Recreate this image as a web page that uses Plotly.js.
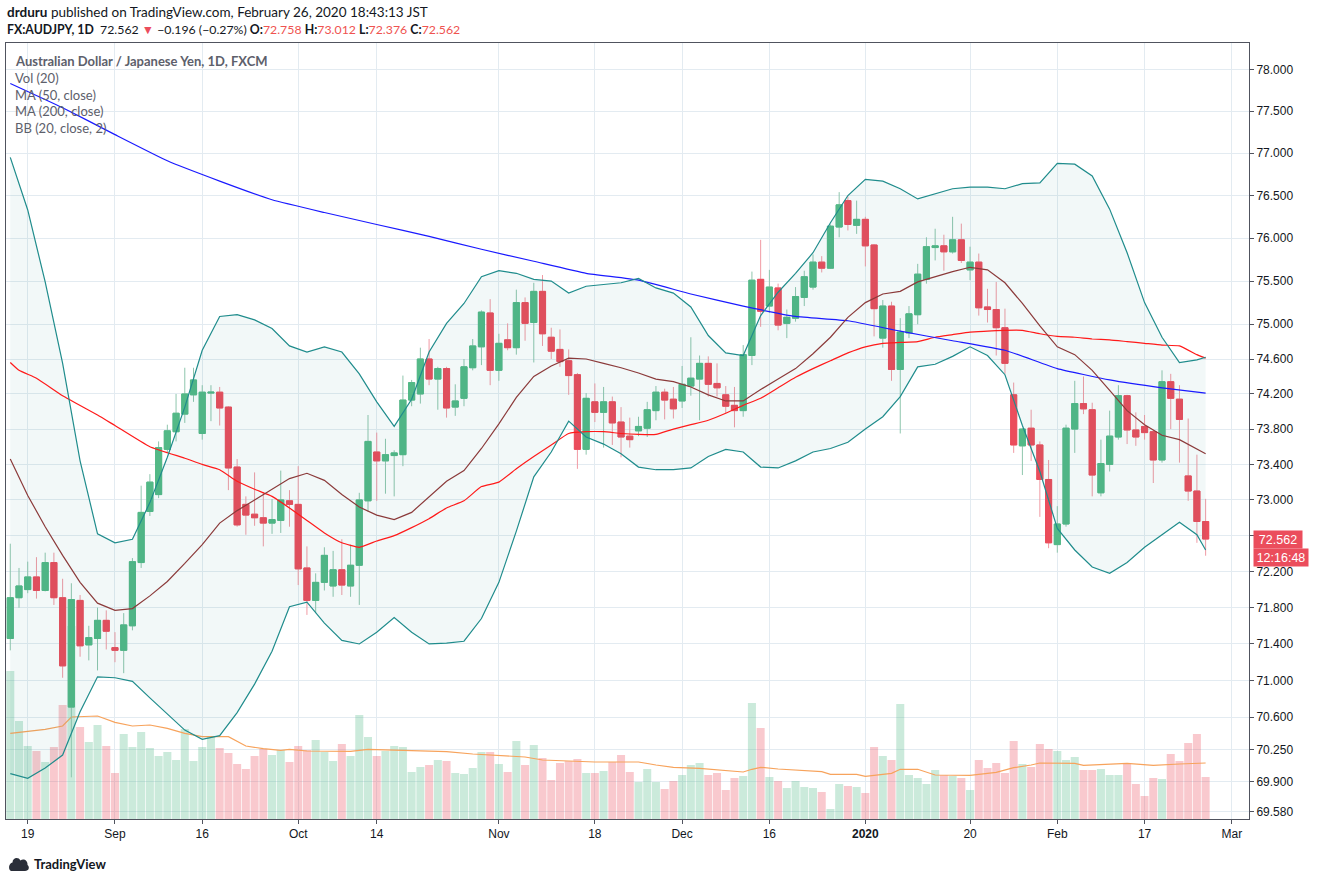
<!DOCTYPE html>
<html><head><meta charset="utf-8">
<script src="https://cdn.plot.ly/plotly-3.0.1.min.js"></script>
<style>html,body{margin:0;padding:0;background:#fff;}#chart{width:1320px;height:883px;}</style>
</head><body><div id="chart"></div>
<script>
// ---- daily candles (FX:AUDJPY, 1D, FXCM) ----
const dates = ['2019-08-15','2019-08-16','2019-08-19','2019-08-20','2019-08-21','2019-08-22','2019-08-23','2019-08-26','2019-08-27','2019-08-28','2019-08-29','2019-08-30',
'2019-09-02','2019-09-03','2019-09-04','2019-09-05','2019-09-06','2019-09-09','2019-09-10','2019-09-11','2019-09-12','2019-09-13',
'2019-09-16','2019-09-17','2019-09-18','2019-09-19','2019-09-20','2019-09-23','2019-09-24','2019-09-25','2019-09-26','2019-09-27',
'2019-09-30','2019-10-01','2019-10-02','2019-10-03','2019-10-04','2019-10-07','2019-10-08','2019-10-09','2019-10-10','2019-10-11',
'2019-10-14','2019-10-15','2019-10-16','2019-10-17','2019-10-18','2019-10-21','2019-10-22','2019-10-23','2019-10-24','2019-10-25',
'2019-10-28','2019-10-29','2019-10-30','2019-10-31','2019-11-01','2019-11-04','2019-11-05','2019-11-06','2019-11-07','2019-11-08',
'2019-11-11','2019-11-12','2019-11-13','2019-11-14','2019-11-15','2019-11-18','2019-11-19','2019-11-20','2019-11-21','2019-11-22',
'2019-11-25','2019-11-26','2019-11-27','2019-11-28','2019-11-29','2019-12-02','2019-12-03','2019-12-04','2019-12-05','2019-12-06',
'2019-12-09','2019-12-10','2019-12-11','2019-12-12','2019-12-13','2019-12-16','2019-12-17','2019-12-18','2019-12-19','2019-12-20',
'2019-12-23','2019-12-24','2019-12-26','2019-12-27','2019-12-30','2019-12-31','2020-01-02','2020-01-03','2020-01-06','2020-01-07',
'2020-01-08','2020-01-09','2020-01-10','2020-01-13','2020-01-14','2020-01-15','2020-01-16','2020-01-17','2020-01-20','2020-01-21',
'2020-01-22','2020-01-23','2020-01-24','2020-01-27','2020-01-28','2020-01-29','2020-01-30','2020-01-31','2020-02-03','2020-02-04',
'2020-02-05','2020-02-06','2020-02-07','2020-02-10','2020-02-11','2020-02-12','2020-02-13','2020-02-14','2020-02-17','2020-02-18',
'2020-02-19','2020-02-20','2020-02-21','2020-02-24','2020-02-25','2020-02-26'];

const open = [71.46,71.91,72.00,72.14,71.99,72.30,71.91,70.71,71.88,71.39,71.46,71.66,
71.36,71.33,71.60,72.30,72.87,73.06,73.57,73.77,73.97,74.19,
73.75,74.21,74.22,74.05,73.37,72.95,72.84,72.80,72.74,72.77,
72.99,72.95,72.24,71.88,72.08,72.04,72.22,72.04,72.27,72.99,
73.54,73.44,73.50,73.51,74.13,74.20,74.60,74.37,74.49,74.05,
74.15,74.50,74.74,75.13,74.47,74.82,74.73,75.25,75.02,75.38,
74.85,74.71,74.58,74.42,73.57,74.11,73.99,74.11,73.88,73.72,
73.78,73.81,74.01,74.22,74.14,74.12,74.29,74.37,74.55,74.32,
74.19,74.07,74.01,74.64,75.52,75.21,75.42,75.01,75.07,75.31,
75.43,75.72,75.65,76.13,76.44,76.15,76.22,75.92,74.84,75.21,
74.48,74.90,75.11,75.52,75.89,75.91,75.84,75.98,75.63,75.72,
75.20,75.17,74.96,74.19,73.61,73.81,73.62,73.23,72.50,72.73,
73.80,74.09,74.02,73.08,73.40,73.71,74.18,73.79,73.83,73.77,
73.45,74.34,74.14,73.27,73.10,72.758];

const high = [72.51,72.24,72.31,72.36,72.41,72.41,72.12,72.07,71.94,71.60,71.80,71.77,
71.53,71.74,72.35,73.16,73.29,73.66,73.85,74.20,74.50,74.50,
74.30,74.30,74.28,74.06,73.46,73.04,73.31,73.09,73.01,73.33,
73.11,73.38,72.48,72.18,72.47,72.43,72.56,72.50,73.08,73.96,
73.76,73.69,73.56,74.41,74.36,74.73,74.83,74.51,74.51,74.31,
74.60,74.83,75.16,75.29,74.89,75.01,75.40,75.31,75.48,75.57,
74.96,74.94,74.71,74.44,74.21,74.32,74.28,74.17,74.05,73.93,
73.94,74.11,74.29,74.26,74.28,74.52,74.85,74.64,74.63,74.55,
74.29,74.28,74.76,75.61,75.98,75.63,75.47,75.17,75.43,75.62,
75.81,75.79,76.16,76.54,76.49,76.44,76.25,75.93,75.28,75.26,
75.07,75.21,75.70,76.01,76.11,76.04,76.25,76.17,75.90,75.82,
75.41,75.49,75.18,74.33,73.81,74.02,73.66,73.45,72.93,73.85,
74.35,74.40,74.10,73.68,74.01,74.30,74.19,73.99,73.96,73.79,
74.47,74.43,74.30,73.92,73.51,73.012];

const low = [71.33,71.80,71.96,71.90,71.98,71.83,71.03,69.95,71.26,71.22,71.11,71.34,
71.20,71.08,71.55,72.24,72.82,73.02,73.54,73.66,73.87,74.11,
73.68,73.89,73.84,73.11,72.70,72.61,72.71,72.48,72.62,72.63,
72.70,72.05,71.72,71.74,71.99,71.92,71.94,71.92,71.83,72.87,
72.99,73.07,73.04,73.38,74.06,74.09,74.30,74.02,73.93,73.95,
74.06,74.47,74.53,74.30,74.35,74.70,74.65,74.81,74.56,74.75,
74.60,74.51,74.19,73.35,73.51,73.88,73.59,73.62,73.48,73.59,
73.72,73.71,73.90,73.91,73.92,74.04,74.18,73.90,74.17,74.17,
73.98,73.82,73.94,74.53,74.97,75.13,74.93,74.84,75.03,75.21,
75.40,75.60,75.64,76.01,76.09,76.05,75.67,74.86,74.73,74.35,
73.75,74.84,75.00,75.47,75.74,75.62,75.82,75.71,75.51,75.10,
75.02,74.64,74.43,73.53,73.28,73.44,72.81,72.46,72.41,72.70,
73.53,73.97,73.04,73.04,73.32,73.68,73.63,73.61,73.68,73.19,
73.42,73.80,73.42,72.99,72.52,72.376];

const close = [71.91,72.04,72.14,71.99,72.30,71.91,71.16,71.89,71.38,71.47,71.66,71.54,
71.33,71.61,72.31,72.86,73.20,73.59,73.78,73.98,74.20,74.36,
74.22,74.22,74.04,73.36,72.72,72.83,72.80,72.74,72.78,73.00,
72.95,72.23,71.88,72.08,72.38,72.22,72.05,72.27,73.00,73.66,
73.44,73.51,73.53,74.13,74.33,74.60,74.37,74.49,74.04,74.12,
74.51,74.75,75.14,74.47,74.78,74.73,75.25,75.01,75.38,74.89,
74.69,74.57,74.41,73.57,74.15,73.99,74.11,73.87,73.71,73.68,
73.83,74.02,74.22,74.13,74.03,74.31,74.38,74.55,74.31,74.27,
74.06,74.01,74.65,75.51,75.15,75.43,74.99,75.08,75.32,75.55,
75.72,75.65,76.14,76.39,76.16,76.22,75.91,75.18,75.21,74.48,
74.91,75.12,75.58,75.90,75.91,75.84,75.98,75.74,75.72,75.19,
75.17,74.96,74.55,73.62,73.80,73.62,73.23,72.52,72.73,73.81,
74.09,74.03,73.28,73.41,73.72,74.18,73.79,73.71,73.76,73.45,
74.34,74.15,73.91,73.10,72.758,72.562];

const volume = [148,98,73,68,57,72,114,193,92,77,94,73,
46,85,72,87,71,63,67,59,90,58,
72,83,71,66,55,50,63,70,64,69,
57,73,69,79,67,58,75,63,104,82,
63,68,73,72,47,52,54,59,58,46,
45,51,67,67,55,47,78,54,74,61,
39,56,58,60,46,46,48,57,64,47,
37,50,37,30,38,44,54,56,44,46,
29,41,43,116,91,42,38,31,38,32,
31,27,10,35,33,32,26,72,63,59,
115,44,41,35,49,44,43,41,29,59,
51,56,46,78,55,52,75,70,68,59,
62,49,49,50,44,44,56,35,23,41,
40,65,58,76,85,42];

// ---- indicator lines ----
const bbDates = ['2019-08-15','2019-08-19','2019-08-21','2019-08-23','2019-08-27','2019-08-29','2019-09-02','2019-09-04','2019-09-06','2019-09-10',
'2019-09-12','2019-09-16','2019-09-18','2019-09-20','2019-09-24','2019-09-26','2019-09-30','2019-10-02','2019-10-04','2019-10-08',
'2019-10-10','2019-10-14','2019-10-16','2019-10-18','2019-10-22','2019-10-24','2019-10-28','2019-10-30','2019-11-01','2019-11-05',
'2019-11-07','2019-11-11','2019-11-13','2019-11-15','2019-11-19','2019-11-21','2019-11-25','2019-11-27','2019-11-29','2019-12-03',
'2019-12-05','2019-12-09','2019-12-11','2019-12-13','2019-12-17','2019-12-19','2019-12-23','2019-12-26','2019-12-30','2020-01-02',
'2020-01-06','2020-01-08','2020-01-10','2020-01-14','2020-01-16','2020-01-20','2020-01-22','2020-01-24','2020-01-28','2020-01-30',
'2020-02-03','2020-02-05','2020-02-07','2020-02-11','2020-02-13','2020-02-17','2020-02-19','2020-02-21','2020-02-25','2020-02-26'];
const bbUpper = [76.95,76.33,75.49,74.55,73.44,72.62,72.52,72.56,72.97,73.48,
74.05,74.70,75.09,75.11,75.05,74.95,74.75,74.68,74.74,74.68,
74.43,74.11,73.83,74.14,74.68,75.01,75.24,75.55,75.62,75.59,
75.52,75.50,75.36,75.44,75.46,75.48,75.53,75.42,75.36,75.20,
74.87,74.67,74.64,75.10,75.37,75.59,75.83,76.18,76.50,76.69,
76.67,76.58,76.46,76.52,76.58,76.60,76.60,76.58,76.64,76.65,
76.88,76.87,76.73,76.34,75.83,75.25,74.85,74.56,74.59,74.62];
const bbBasis = [73.46,73.05,72.70,72.38,72.08,71.85,71.77,71.79,71.93,72.09,
72.29,72.50,72.74,72.88,73.00,73.12,73.24,73.30,73.22,73.06,
72.92,72.83,72.78,72.86,73.04,73.21,73.33,73.58,73.86,74.16,
74.40,74.52,74.61,74.60,74.55,74.50,74.44,74.37,74.34,74.28,
74.19,74.12,74.12,74.25,74.37,74.49,74.66,74.85,75.08,75.25,
75.35,75.38,75.49,75.55,75.61,75.66,75.63,75.48,75.24,74.98,
74.74,74.65,74.47,74.24,74.01,73.85,73.73,73.68,73.57,73.52];
const bbLower = [69.99,69.94,70.05,70.19,70.66,71.04,71.03,70.99,70.81,70.63,
70.46,70.36,70.40,70.65,70.96,71.32,71.81,71.86,71.63,71.44,
71.40,71.53,71.69,71.53,71.40,71.41,71.43,71.68,72.08,72.65,
73.26,73.54,73.89,73.71,73.63,73.52,73.37,73.34,73.34,73.36,
73.49,73.57,73.54,73.37,73.36,73.44,73.54,73.58,73.65,73.80,
73.94,74.17,74.51,74.54,74.63,74.74,74.64,74.42,73.84,73.32,
72.68,72.44,72.25,72.18,72.30,72.47,72.61,72.75,72.61,72.44];

const ma50Dates = ['2019-08-15','2019-08-16','2019-08-20','2019-08-23','2019-08-29','2019-09-02','2019-09-06','2019-09-12','2019-09-16','2019-09-18',
'2019-09-20','2019-09-24','2019-09-26','2019-09-30','2019-10-02','2019-10-04','2019-10-08','2019-10-10','2019-10-14','2019-10-16',
'2019-10-18','2019-10-22','2019-10-24','2019-10-28','2019-10-30','2019-11-01','2019-11-05','2019-11-07','2019-11-11','2019-11-13',
'2019-11-15','2019-11-19','2019-11-21','2019-11-25','2019-11-27','2019-11-29','2019-12-03','2019-12-05','2019-12-09','2019-12-11',
'2019-12-13','2019-12-17','2019-12-19','2019-12-23','2019-12-26','2019-12-30','2020-01-02','2020-01-06','2020-01-08','2020-01-10',
'2020-01-14','2020-01-16','2020-01-20','2020-01-22','2020-01-24','2020-01-28','2020-01-30','2020-02-03','2020-02-05','2020-02-07',
'2020-02-11','2020-02-13','2020-02-17','2020-02-19','2020-02-21','2020-02-25','2020-02-26'];
const ma50 = [74.56,74.47,74.38,74.18,73.96,73.84,73.60,73.47,73.40,73.34,
73.21,73.12,73.04,72.91,72.77,72.63,72.52,72.47,72.54,72.60,
72.69,72.79,72.91,72.99,73.15,73.20,73.35,73.49,73.62,73.75,
73.77,73.77,73.75,73.74,73.74,73.80,73.85,73.90,73.98,74.07,
74.15,74.27,74.39,74.49,74.58,74.67,74.74,74.78,74.79,74.80,
74.85,74.88,74.91,74.92,74.93,74.93,74.89,74.86,74.85,74.83,
74.82,74.80,74.78,74.76,74.75,74.65,74.61];

const ma200Dates = ['2019-08-15','2019-08-23','2019-09-02','2019-09-10','2019-09-18','2019-09-26','2019-10-04','2019-10-14','2019-10-22','2019-10-30',
'2019-11-07','2019-11-15','2019-11-25','2019-12-03','2019-12-11','2019-12-19','2019-12-30','2020-01-08','2020-01-16','2020-01-24',
'2020-02-03','2020-02-11','2020-02-19','2020-02-26'];
const ma200 = [77.83,77.54,77.22,76.91,76.67,76.45,76.30,76.16,76.02,75.87,
75.73,75.59,75.51,75.35,75.21,75.09,75.04,74.92,74.81,74.70,
74.49,74.36,74.27,74.21];

const volMaDates = ['2019-08-15','2019-08-19','2019-08-21','2019-08-23','2019-08-26','2019-08-29','2019-09-02','2019-09-04','2019-09-06','2019-09-10',
'2019-09-12','2019-09-16','2019-09-19','2019-09-23','2019-09-25','2019-09-27','2019-09-30','2019-10-02','2019-10-09','2019-10-11',
'2019-10-16','2019-10-22','2019-10-24','2019-10-29','2019-11-01','2019-11-06','2019-11-08','2019-11-13','2019-11-18','2019-11-21',
'2019-11-25','2019-11-27','2019-11-29','2019-12-04','2019-12-09','2019-12-11','2019-12-12','2019-12-13','2019-12-17','2019-12-20',
'2019-12-24','2019-12-26','2019-12-31','2020-01-02','2020-01-07','2020-01-08','2020-01-10','2020-01-14','2020-01-17','2020-01-20',
'2020-01-23','2020-01-27','2020-01-29','2020-01-30','2020-02-05','2020-02-06','2020-02-13','2020-02-18','2020-02-21','2020-02-26'];
const volMa = [85.7,88,89.7,93,102,103,96.7,93,94,90.7,
85.7,82.3,82.3,73,70.3,68.7,69.7,68,67.7,69.7,
68.7,68,67.3,65,63.7,62,59,58,57,57,
57,54,51.7,50.7,48.3,47,49.7,51.7,50,48,
47.3,44.7,44.7,42.7,45.7,49.7,49.7,44,44,43.7,
46.7,51.3,54,56,55.7,53.7,55.7,53.7,55,56];

// ---- axis labels ----
const xTickVals = ['2019-08-19','2019-09-02','2019-09-16','2019-10-01','2019-10-14','2019-11-01','2019-11-18','2019-12-02','2019-12-16','2020-01-02','2020-01-20','2020-02-03','2020-02-17','2020-03-02'];
const xTickText = ['19','Sep','16','Oct','14','Nov','18','Dec','16','<b>2020</b>','20','Feb','17','Mar'];
const yTickVals = [78,77.5,77,76.5,76,75.5,75,74.6,74.2,73.8,73.4,73,72.6,72.2,71.8,71.4,71,70.6,70.25,69.9,69.58];
const yHiddenTick = 72.6; // its label sits under the last-price tag
const yTickText = yTickVals.map(v => v === yHiddenTick ? '' : v.toFixed(3));

// ---- build ----
const UP = '#53b987', DOWN = '#eb4d5c';
const UP_WICK = '#8fc6ad', DOWN_WICK = '#f19aa4';
const n = dates.length, last = n - 1;
const bodyHi = open.map((o, i) => Math.max(o, close[i]));
const bodyLo = open.map((o, i) => Math.min(o, close[i]));
const volColors = close.map((c, i) => c >= open[i] ? 'rgba(83,185,135,0.30)' : 'rgba(235,77,92,0.30)');

const traces = [
  {type:'bar', x:dates, y:volume, xaxis:'x', yaxis:'y', marker:{color:volColors, line:{width:0}}, hoverinfo:'skip'},
  {type:'scatter', mode:'lines', x:volMaDates, y:volMa, xaxis:'x', yaxis:'y', line:{color:'#f7a35c', width:1.2}, hoverinfo:'skip'},
  {type:'scatter', mode:'lines', x:bbDates, y:bbUpper, yaxis:'y2', line:{width:0, color:'rgba(0,0,0,0)'}, hoverinfo:'skip'},
  {type:'scatter', mode:'lines', x:bbDates, y:bbLower, yaxis:'y2', line:{width:0, color:'rgba(0,0,0,0)'}, fill:'tonexty', fillcolor:'rgba(19,132,132,0.055)', hoverinfo:'skip'},
  {type:'candlestick', x:dates, open:open, high:high, low:low, close:close, yaxis:'y2', whiskerwidth:0,
   increasing:{line:{color:UP_WICK, width:1}, fillcolor:UP}, decreasing:{line:{color:DOWN_WICK, width:1}, fillcolor:DOWN}, hoverinfo:'skip'},
  {type:'candlestick', x:dates, open:open, high:bodyHi, low:bodyLo, close:close, yaxis:'y2', whiskerwidth:0,
   increasing:{line:{color:UP, width:1}, fillcolor:UP}, decreasing:{line:{color:DOWN, width:1}, fillcolor:DOWN}, hoverinfo:'skip'},
  {type:'scatter', mode:'lines', x:ma50Dates, y:ma50, yaxis:'y2', line:{color:'#ff1a1a', width:1.2, shape:'spline', smoothing:0.4}, hoverinfo:'skip'},
  {type:'scatter', mode:'lines', x:ma200Dates, y:ma200, yaxis:'y2', line:{color:'#1a1aff', width:1.2, shape:'spline', smoothing:0.4}, hoverinfo:'skip'},
  {type:'scatter', mode:'lines', x:bbDates, y:bbUpper, yaxis:'y2', line:{color:'#1f8c8c', width:1.2}, hoverinfo:'skip'},
  {type:'scatter', mode:'lines', x:bbDates, y:bbLower, yaxis:'y2', line:{color:'#1f8c8c', width:1.2}, hoverinfo:'skip'},
  {type:'scatter', mode:'lines', x:bbDates, y:bbBasis, yaxis:'y2', line:{color:'#8b3a3a', width:1.2}, hoverinfo:'skip'}
];

const lastC = close[last], prevC = close[last-1];
const chg = lastC - prevC, pct = chg / prevC * 100;
const signed = (v, d) => (v < 0 ? '\u2212' : '+') + Math.abs(v).toFixed(d);
const RED = '#ef5350';
const line2 = '<b>FX:AUDJPY, 1D</b>\u00a0\u00a0' + lastC.toFixed(3) + ' <span style="color:' + DOWN + '">\u25BC</span> ' +
  signed(chg, 3) + ' (' + signed(pct, 2) + '%) ' +
  '<b>O:</b><span style="color:' + RED + '">' + open[last].toFixed(3) + '</span> ' +
  '<b>H:</b><span style="color:' + RED + '">' + high[last].toFixed(3) + '</span> ' +
  '<b>L:</b><span style="color:' + RED + '">' + low[last].toFixed(3) + '</span> ' +
  '<b>C:</b><span style="color:' + RED + '">' + lastC.toFixed(3) + '</span>';

const TXT = 'Lato, "Noto Sans", sans-serif';
function topText(text, xs, ys, opts) {
  return Object.assign({xref:'paper', yref:'paper', x:0, y:1, xanchor:'left', yanchor:'middle', xshift:xs, yshift:ys,
    text:text, showarrow:false, font:{family:TXT, size:13.5, color:'#131722'}}, opts || {});
}
const legendFont = {family:TXT, size:13, color:'#5d606b'};
const annotations = [
  topText('<b>drduru</b> published on TradingView.com, February 26, 2020 18:43:13 JST', -1, 31),
  topText(line2, -1, 14, {font:{family:TXT, size:12.3, color:'#131722'}}),
  topText('<b>Australian Dollar / Japanese Yen, 1D, FXCM</b>', 7, -18, {font:legendFont}),
  topText('Vol (20)', 7, -35, {font:legendFont}),
  topText('MA (50, close)', 7, -52, {font:legendFont}),
  topText('MA (200, close)', 7, -68, {font:legendFont}),
  topText('BB (20, close, 2)', 7, -85, {font:legendFont}),
  {xref:'paper', yref:'y2', x:1, y:Math.log10(lastC), xanchor:'left', yanchor:'middle', xshift:4, showarrow:false,
   text:lastC.toFixed(3), bgcolor:DOWN, borderpad:1, width:46, height:15, align:'center',
   font:{family:'"Liberation Sans", Arial, sans-serif', size:12.5, color:'#ffffff'}},
  {xref:'paper', yref:'y2', x:1, y:Math.log10(lastC), xanchor:'left', yanchor:'middle', xshift:4, yshift:-18, showarrow:false,
   text:'12:16:48', bgcolor:DOWN, borderpad:1, width:52, height:15, align:'center',
   font:{family:'"Liberation Sans", Arial, sans-serif', size:12.5, color:'#ffffff'}},
  {xref:'paper', yref:'paper', x:0, y:0, xanchor:'left', yanchor:'middle', xshift:26, yshift:-45, showarrow:false,
   text:'<b>TradingView</b>', font:{family:TXT, size:13, color:'#131722'}}
];

const shapes = [
  {type:'line', xref:'paper', yref:'y2', x0:0, x1:1, y0:Math.log10(lastC), y1:Math.log10(lastC),
   line:{color:DOWN, width:1, dash:'dot'}},
  {type:'path', xref:'paper', yref:'paper', xsizemode:'pixel', ysizemode:'pixel', xanchor:0, yanchor:0,
   path:'M 5 -52 L 19 -52 C 23 -52 24 -48 21.5 -46 C 22 -41 17 -39 14.5 -41.5 C 12.5 -37.5 6.5 -38.5 6.5 -43.5 C 2.5 -44 2 -51 5 -52 Z',
   fillcolor:'#2a2e39', line:{width:0}}
];

const gridC = '#e3ebf1', axisC = '#50535e';
const layout = {
  width:1320, height:883, margin:{l:6, r:71, t:43, b:64},
  paper_bgcolor:'#ffffff', plot_bgcolor:'#ffffff', showlegend:false, hovermode:false,
  boxgap:0.3, boxgroupgap:0, bargap:0.08,
  font:{family:'"Liberation Sans", Arial, sans-serif', size:12, color:'#131722'},
  xaxis:{type:'date', range:['2019-08-14 12:14','2020-03-03 23:17'],
    rangebreaks:[{bounds:['sat','mon']}, {values:['2019-12-25','2020-01-01']}],
    rangeslider:{visible:false}, tickmode:'array', tickvals:xTickVals, ticktext:xTickText,
    showgrid:true, gridcolor:gridC, gridwidth:1, zeroline:false,
    showline:true, linecolor:axisC, linewidth:1, mirror:true,
    ticks:'outside', ticklen:4, tickcolor:axisC, tickfont:{size:12, color:'#131722'}, fixedrange:true},
  yaxis:{range:[0, 776], visible:false, showgrid:false, zeroline:false, fixedrange:true},
  yaxis2:{type:'log', overlaying:'y', side:'right', range:[1.842004, 1.893852],
    tickmode:'array', tickvals:yTickVals, ticktext:yTickText,
    showgrid:true, gridcolor:gridC, gridwidth:1, zeroline:false,
    showline:true, linecolor:axisC, linewidth:1, mirror:true,
    ticks:'outside', ticklen:4, tickcolor:axisC, tickfont:{size:12, color:'#131722'}, fixedrange:true},
  annotations:annotations, shapes:shapes
};

Plotly.newPlot('chart', traces, layout, {staticPlot:true, displayModeBar:false});
</script>
</body></html>
